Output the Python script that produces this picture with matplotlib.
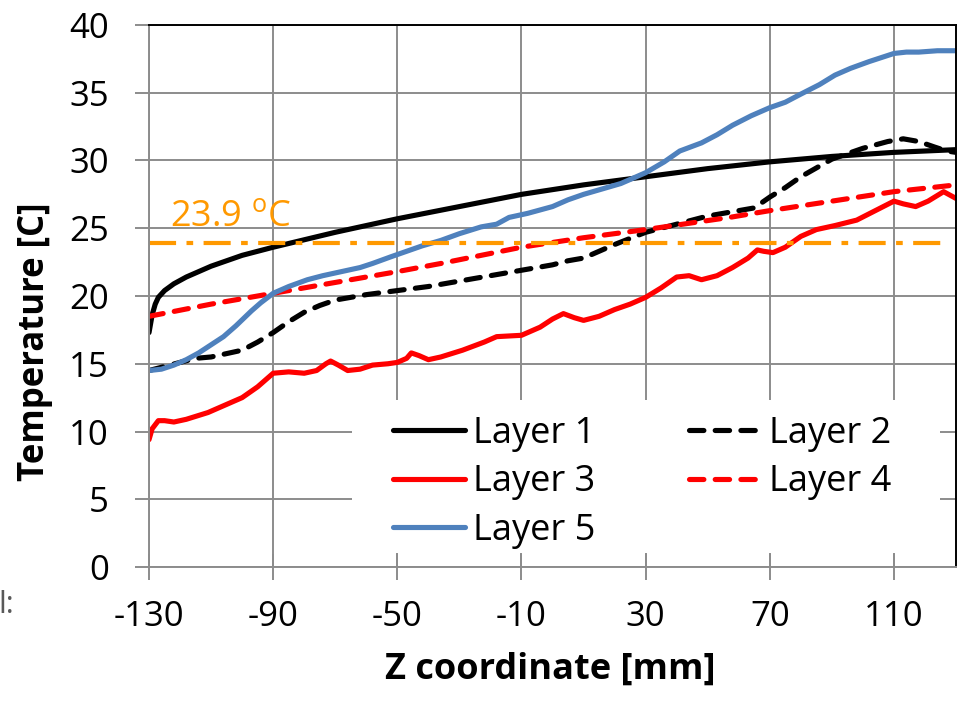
import matplotlib
matplotlib.use('Agg')
import matplotlib.pyplot as plt
from matplotlib.patches import Rectangle

plt.rcParams.update({
    "font.family": 'Open Sans',
    "mathtext.default": 'regular',
    "axes.unicode_minus": False,
    "axes.linewidth": 1.4,
    "xtick.labelsize": 25,
    "ytick.labelsize": 25,
    "legend.fontsize": 26,
    "lines.solid_joinstyle": 'round',
    "lines.dash_joinstyle": 'round',
})

# temperature along the z axis for each layer
z_layer1 = [-130, -129, -128, -127, -125, -122, -118, -110, -100, -90, -70, -50, -30, -10,
            10, 30, 50, 70, 90, 110, 130]
t_layer1 = [17.3, 18.6, 19.4, 19.9, 20.4, 20.9, 21.4, 22.2, 23.0, 23.6, 24.7, 25.7, 26.6, 27.5,
            28.2, 28.8, 29.4, 29.9, 30.3, 30.6, 30.8]

z_layer2 = [-130, -125, -120, -115, -110, -100, -95, -90, -85, -80, -75, -70, -60, -50, -40,
            -30, -20, -10, 0, 5, 10, 15, 20, 30, 40, 50, 60, 65, 70, 75, 80, 90, 100, 108,
            113, 118, 123, 127, 130]
t_layer2 = [14.5, 14.8, 15.1, 15.4, 15.5, 16.0, 16.6, 17.3, 18.1, 18.8, 19.3, 19.7, 20.1, 20.4, 20.7,
            21.1, 21.5, 21.9, 22.3, 22.6, 22.8, 23.3, 23.8, 24.7, 25.3, 25.9, 26.3, 26.5, 27.3, 28.0,
            28.8, 30.1, 30.9, 31.4, 31.6, 31.4, 31.0, 30.7, 30.6]

z_layer3 = [-130, -129, -127, -125, -122, -118, -111, -105, -100, -95, -90, -85, -80, -76, -73,
            -71.5, -69, -66, -62, -58, -53, -50, -47, -45.5, -43, -40, -36, -29, -22, -18, -10,
            -4, 0, 3.5, 7, 10, 15, 20, 25, 30, 35, 40, 44, 48, 53, 58, 63, 66, 68, 71, 75, 80,
            85, 91, 98, 104, 110, 113, 117, 121, 126, 130]
t_layer3 = [9.4, 10.2, 10.8, 10.8, 10.7, 10.9, 11.4, 12.0, 12.5, 13.3, 14.3, 14.4, 14.3, 14.5, 15.0,
            15.2, 14.9, 14.5, 14.6, 14.9, 15.0, 15.1, 15.4, 15.8, 15.6, 15.3, 15.5, 16.0, 16.6, 17.0, 17.1,
            17.7, 18.3, 18.7, 18.4, 18.2, 18.5, 19.0, 19.4, 19.9, 20.6, 21.4, 21.5, 21.2, 21.5, 22.1,
            22.8, 23.4, 23.3, 23.2, 23.6, 24.4, 24.9, 25.2, 25.6, 26.3, 27.0, 26.8, 26.6, 27.0, 27.7, 27.2]

z_layer4 = [-130, -110, -90, -70, -50, -36, -10, 10, 30, 57, 70, 90, 110, 130]
t_layer4 = [18.5, 19.4, 20.2, 21.0, 21.8, 22.4, 23.6, 24.3, 24.9, 25.8, 26.3, 27.0, 27.7, 28.2]

z_layer5 = [-130, -126, -122, -118, -114, -110, -106, -102, -97, -94, -90, -85, -79, -74, -68,
            -62, -58, -52, -47, -42, -36, -30, -23, -18, -14, -8, 0, 5, 10, 16, 22, 26, 30, 36,
            41, 48, 53, 58, 64, 70, 75, 80, 86, 91, 96, 102, 106, 110, 114, 118, 124, 130]
t_layer5 = [14.5, 14.6, 14.9, 15.3, 15.8, 16.4, 17.0, 17.8, 18.9, 19.5, 20.2, 20.7, 21.2, 21.5, 21.8,
            22.1, 22.4, 22.9, 23.3, 23.7, 24.1, 24.6, 25.1, 25.3, 25.8, 26.1, 26.6, 27.1, 27.5, 27.9,
            28.3, 28.7, 29.1, 29.9, 30.7, 31.3, 31.9, 32.6, 33.3, 33.9, 34.3, 34.9, 35.6, 36.3, 36.8,
            37.3, 37.6, 37.9, 38.0, 38.0, 38.1, 38.1]

# reference temperature
ref_z = [-130, 127]
ref_t = [23.9, 23.9]
ref_label = '23.9 $^{o}$C'

x_ticks = [-130, -90, -50, -10, 30, 70, 110]
y_ticks = [0, 5, 10, 15, 20, 25, 30, 35, 40]

GRID = '#8c8c8c'
BLUE = '#4f81bd'
ORANGE = '#ff9900'

fig = plt.figure(figsize=(9.59, 7.02), dpi=100)
ax = fig.add_axes([0.1554, 0.1923, 0.8415, 0.7721])

lw = 3.7
dash = (0, (2.8, 2.2))
l1, = ax.plot(z_layer1, t_layer1, color='black', lw=lw, label='Layer 1', solid_capstyle='round')
l2, = ax.plot(z_layer2, t_layer2, color='black', lw=lw, label='Layer 2',
              linestyle=dash, dash_capstyle='round')
l3, = ax.plot(z_layer3, t_layer3, color='red', lw=lw, label='Layer 3', solid_capstyle='round')
l4, = ax.plot(z_layer4, t_layer4, color='red', lw=lw, label='Layer 4',
              linestyle=dash, dash_capstyle='round')
l5, = ax.plot(z_layer5, t_layer5, color=BLUE, lw=lw, label='Layer 5', solid_capstyle='round')
ax.plot(ref_z, ref_t, color=ORANGE, lw=3.0, linestyle=(0, (6.5, 2.5, 1.6, 2.5)))
ax.text(-123.2, 25.2, ref_label, color=ORANGE, fontsize=26, va='baseline', ha='left')

ax.set_xlim(-130, 130)
ax.set_ylim(0, 40)
ax.set_xticks(x_ticks)
ax.set_yticks(y_ticks)
ax.set_axisbelow(True)
ax.grid(True, color=GRID, lw=1.4)

for side in ['left', 'bottom']:
    ax.spines[side].set_color(GRID)
for side in ['top', 'right']:
    ax.spines[side].set_color('black')

ax.tick_params(axis='y', direction='out', length=10, width=1.4, color=GRID, pad=19)
ax.tick_params(axis='x', direction='inout', length=19, width=1.4, color=GRID, pad=14)

ax.set_xlabel('Z coordinate [mm]', fontsize=26, fontweight='bold')
ax.set_ylabel('Temperature [C]', fontsize=25, fontweight='bold')
ax.xaxis.set_label_coords(0.497, -0.157)
ax.yaxis.set_label_coords(-0.119, 0.415)

# white box behind the legend hides the grid there
ax.add_patch(Rectangle((0.2516, 0.026), 0.7284, 0.282, transform=ax.transAxes,
                       facecolor='white', edgecolor='none', zorder=1))
ax.legend(handles=[l1, l3, l5, l2, l4], ncol=2, frameon=False, loc='upper left',
          bbox_to_anchor=(0.302, 0.279), borderpad=0, borderaxespad=0,
          handlelength=2.0, handletextpad=0.22, columnspacing=2.6, labelspacing=0.35)

fig.text(-0.002, 1 - 605 / 702, 'l:', color='#595959', fontsize=22, va='center', ha='left')

fig.savefig('out.png', dpi=100, facecolor='white')
